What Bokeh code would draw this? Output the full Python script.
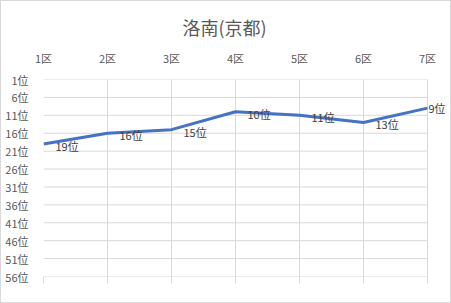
from bokeh.plotting import figure
from bokeh.models import FixedTicker, LinearAxis, ColumnDataSource, Range1d, LabelSet
from bokeh.core.properties import value
from bokeh.embed import file_html
from bokeh.resources import INLINE

title_text = "洛南(京都)"
sections = ["1区", "2区", "3区", "4区", "5区", "6区", "7区"]
ranks = [19, 16, 15, 10, 11, 13, 9]
rank_ticks = [1, 6, 11, 16, 21, 26, 31, 36, 41, 46, 51, 56]

FONT = "Noto Sans CJK JP"
GRID = "#d9d9d9"
TXT = "#595959"

xs = list(range(1, len(sections) + 1))
labels = [f"{r}位" for r in ranks]
x_lo, x_hi = xs[0], xs[-1]
# extra room right of the last category so the last data label is not clipped
pad_right = 0.36

p = figure(width=451, height=303, output_backend="svg", toolbar_location=None,
           x_range=Range1d(x_lo, x_hi + pad_right), y_range=Range1d(rank_ticks[-1], rank_ticks[0]),
           x_axis_location="above",
           min_border_left=42, min_border_right=2, min_border_top=78, min_border_bottom=28)
p.outline_line_color = None
p.background_fill_color = "white"
p.border_fill_color = "white"

p.title.text = title_text
p.title.align = "left"
p.title.text_font = FONT
p.title.text_font_size = "18px"
p.title.text_font_style = "normal"
p.title.text_color = TXT
p.title.offset = 139
p.title.standoff = 13

xa = p.xaxis[0]
xa.ticker = FixedTicker(ticks=xs)
xa.major_label_overrides = {x: s for x, s in zip(xs, sections)}
xa.axis_line_color = None
xa.major_tick_line_color = None
xa.minor_tick_line_color = None
xa.major_label_text_font = FONT
xa.major_label_text_font_size = "11px"
xa.major_label_text_color = TXT
xa.major_label_standoff = 8

ya = p.yaxis[0]
ya.ticker = FixedTicker(ticks=rank_ticks)
ya.major_label_overrides = {t: f"{t}位" for t in rank_ticks}
ya.axis_line_color = None
ya.major_tick_line_color = None
ya.minor_tick_line_color = None
ya.major_label_text_font = FONT
ya.major_label_text_font_size = "11px"
ya.major_label_text_color = TXT
ya.major_label_standoff = 9

# bottom stub ticks
bx = LinearAxis(ticker=FixedTicker(ticks=xs))
bx.axis_line_color = None
bx.major_tick_line_color = GRID
bx.major_tick_out = 7
bx.major_tick_in = 0
bx.minor_tick_line_color = None
bx.major_label_text_font_size = "0px"
bx.major_label_text_alpha = 0
bx.major_label_standoff = 0
p.add_layout(bx, "below")

p.xgrid.grid_line_color = GRID
p.xgrid.grid_line_width = 1
p.ygrid.grid_line_color = None

# horizontal gridlines limited to the category span
p.segment(x0=[x_lo] * len(rank_ticks), x1=[x_hi] * len(rank_ticks), y0=rank_ticks, y1=rank_ticks,
          line_color=GRID, line_width=1)

src = ColumnDataSource(dict(x=xs, y=ranks, label=labels))
p.line("x", "y", source=src, line_color="#4472C4", line_width=3, line_join="round")

src_a = ColumnDataSource(dict(x=xs[:-1], y=ranks[:-1], label=labels[:-1]))
src_b = ColumnDataSource(dict(x=xs[-1:], y=ranks[-1:], label=labels[-1:]))
for s, dx, dy in ((src_a, 12, -2), (src_b, 1, 0)):
    p.add_layout(LabelSet(x="x", y="y", text="label", source=s, x_offset=dx, y_offset=dy,
                          text_font=value(FONT), text_font_size="11px", text_color="#404040",
                          text_baseline="middle", text_align="left"))

p.styles = {"border": "1px solid #d9d9d9", "box-sizing": "border-box"}

open("out.html", "w").write(file_html(p, INLINE))
